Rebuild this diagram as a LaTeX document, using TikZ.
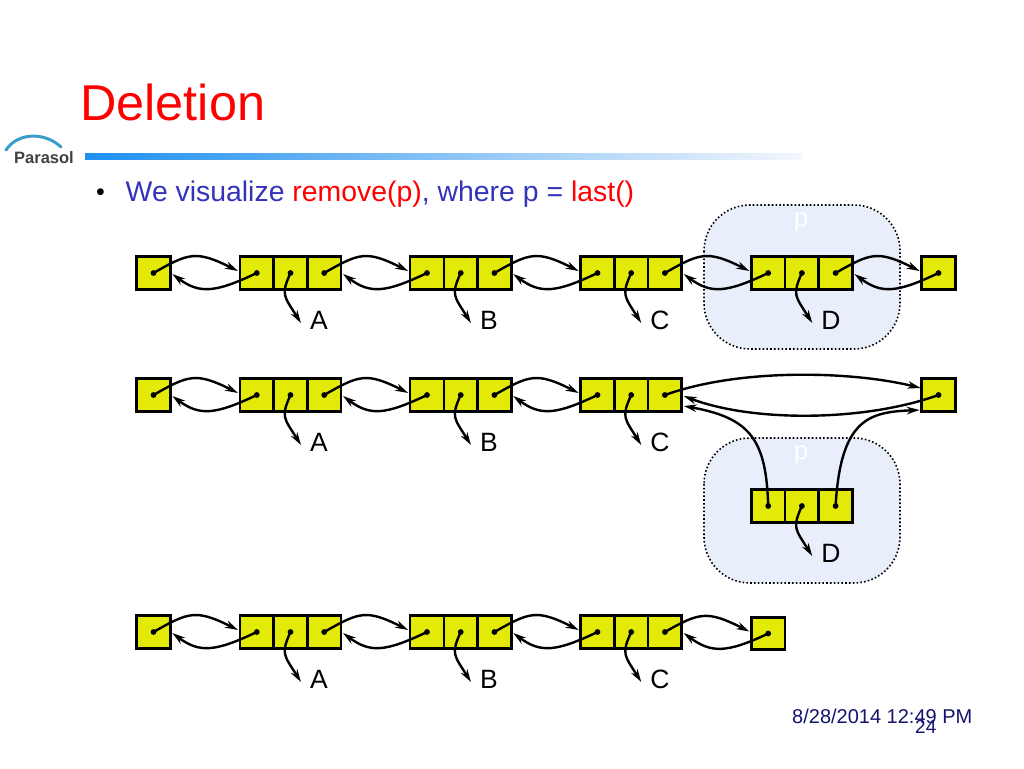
\documentclass[tikz,border=0pt]{standalone}
\usepackage{fontspec}
\setmainfont{Liberation Sans}
\usetikzlibrary{arrows.meta,calc}
\definecolor{cellfill}{HTML}{E4EA08}
\definecolor{blobfill}{HTML}{E8EEFA}
\definecolor{bluetxt}{HTML}{3333BB}
\definecolor{navytxt}{HTML}{14146E}
\definecolor{logoblue}{HTML}{3A9CC8}
\definecolor{barleft}{HTML}{1E90F0}
\definecolor{barmid}{HTML}{9CC3FC}
\definecolor{barright}{HTML}{F4F6FC}
\tikzset{
  cellbox/.style={draw=black,fill=cellfill,line width=2.6pt,minimum width=33.7pt,minimum height=32.5pt,inner sep=0pt,outer sep=0pt},
  link/.style={line width=2.4pt,-{Stealth[length=13pt,width=7.5pt]}},
  lbl/.style={font=\fontsize{26.5}{30}\selectfont,inner sep=0pt,text=black},
  blob/.style={draw=black,fill=blobfill,line width=1.6pt,dash pattern=on 1.6pt off 2.2pt,rounded corners=46pt},
  ptxt/.style={font=\fontsize{26}{30}\selectfont,text=white,inner sep=0pt}
}
\newcommand{\tripcell}[3]{%
  \node[cellbox] (#1a) at (#2,#3) {};
  \node[cellbox] (#1b) at (#2+33.7,#3) {};
  \node[cellbox] (#1c) at (#2+67.4,#3) {};
}
\newcommand{\pdot}[1]{\fill (#1.center) circle (2.9pt);}
\newcommand{\dotsthree}[1]{\pdot{#1a}\pdot{#1b}\pdot{#1c}}
\newcommand{\fwdlink}[2]{%
  \draw[link] (#1.center) .. controls ($(#1.center)+(35,-20)$) and ($(#2.west)+(-44,-23)$) .. ($(#2.west)+(-2,-2)$);
}
\newcommand{\backlink}[2]{%
  \draw[link] (#2.center) .. controls ($(#2.center)+(-42,20)$) and ($(#1.east)+(29,21)$) .. ($(#1.east)+(2,1)$);
}
\newcommand{\taillink}[2]{%
  \draw[link] (#1.center) .. controls ($(#1.center)+(-10,22)$) and ($(#2.west)+(-26,-24)$) .. ($(#2.west)+(-9,3)$);
}
\begin{document}
\begin{tikzpicture}[x=1pt,y=-1pt]
\useasboundingbox (0,0) rectangle (1024,768);
% header
\node[anchor=base west,inner sep=0pt,text=red,font=\fontsize{50.4}{56}\selectfont] (title) at (80,120) {Deletion};
\shade[left color=barleft,middle color=barmid,right color=barright] (85,153) rectangle (802,159);
\draw[logoblue,line width=3pt,line cap=round] (6,150) .. controls (18,132) and (45,132) .. (61,147);
\node[anchor=base west,inner sep=0pt,text=black!75,font=\fontsize{16.5}{20}\selectfont\bfseries] (logo) at (14,163) {Parasol};
\node[anchor=base west,inner sep=0pt,font=\fontsize{25}{30}\selectfont] (bul) at (96,200) {•};
\node[anchor=base west,inner sep=0pt,text=bluetxt,font=\fontsize{28.4}{32}\selectfont] (sub) at (125.5,201) {We visualize \textcolor{red}{remove(p)}, where p = \textcolor{red}{last()}};
% blobs
\draw[blob] (704,205) rectangle (900,349);
\draw[blob] (704,438) rectangle (900,583);
\node[ptxt] (p1) at (801,222) {p};
\node[ptxt] (p2) at (801,455) {p};
% row 1
\node[cellbox] (ah) at (153.5,273) {};
\tripcell{aa}{256.8}{273}
\tripcell{ab}{427}{273}
\tripcell{ac}{597.5}{273}
\tripcell{ad}{768.2}{273}
\node[cellbox] (at) at (938.5,273) {};
% row 2
\node[cellbox] (bh) at (153.5,395) {};
\tripcell{ba}{256.8}{395}
\tripcell{bb}{427}{395}
\tripcell{bc}{597.5}{395}
\node[cellbox] (bt) at (938.5,395) {};
\tripcell{bd}{768.2}{506}
% row 3
\node[cellbox] (ch) at (153.5,632) {};
\tripcell{ca}{256.8}{632}
\tripcell{cb}{427}{632}
\tripcell{cc}{597.5}{632}
\node[cellbox] (ct) at (768.2,633.5) {};
% labels
\foreach \n/\t/\x/\y in {la1/A/319/320,lb1/B/489/320,lc1/C/660/320,ld1/D/831/320,la2/A/319/442,lb2/B/489/442,lc2/C/660/442,ld2/D/831/553,la3/A/319/679,lb3/B/489/679,lc3/C/660/679}
  \node[lbl] (\n) at (\x,\y) {\t};
% dots
\pdot{ah}\dotsthree{aa}\dotsthree{ab}\dotsthree{ac}\dotsthree{ad}\pdot{at}
\pdot{bh}\dotsthree{ba}\dotsthree{bb}\dotsthree{bc}\dotsthree{bd}\pdot{bt}
\pdot{ch}\dotsthree{ca}\dotsthree{cb}\dotsthree{cc}\pdot{ct}
% links row 1
\fwdlink{ah}{aaa}\backlink{ah}{aaa}
\fwdlink{aac}{aba}\backlink{aac}{aba}
\fwdlink{abc}{aca}\backlink{abc}{aca}
\fwdlink{acc}{ada}\backlink{acc}{ada}
\fwdlink{adc}{at}\backlink{adc}{at}
% links row 2
\fwdlink{bh}{baa}\backlink{bh}{baa}
\fwdlink{bac}{bba}\backlink{bac}{bba}
\fwdlink{bbc}{bca}\backlink{bbc}{bca}
\draw[link] (bcc.center) .. controls ($(bcc.center)+(75,-27)$) and ($(bt.west)+(-70,-24)$) .. ($(bt.west)+(-1,-7)$);
\draw[link] (bt.center) .. controls ($(bt.center)+(-75,27)$) and ($(bcc.east)+(70,27)$) .. ($(bcc.east)+(2,1)$);
\draw[link] (bda.center) .. controls ($(bda.center)+(-2,-66)$) and ($(bcc.east)+(69,23)$) .. ($(bcc.east)+(2,11)$);
\draw[link] (bdc.center) .. controls ($(bdc.center)+(5,-88)$) and ($(bt.west)+(-52,17)$) .. ($(bt.west)+(-2,15)$);
% links row 3
\fwdlink{ch}{caa}\backlink{ch}{caa}
\fwdlink{cac}{cba}\backlink{cac}{cba}
\fwdlink{cbc}{cca}\backlink{cbc}{cca}
\fwdlink{ccc}{ct}\backlink{ccc}{ct}
% tails
\taillink{aab}{la1}\taillink{abb}{lb1}\taillink{acb}{lc1}\taillink{adb}{ld1}
\taillink{bab}{la2}\taillink{bbb}{lb2}\taillink{bcb}{lc2}\taillink{bdb}{ld2}
\taillink{cab}{la3}\taillink{cbb}{lb3}\taillink{ccb}{lc3}
% footer
\node[anchor=base west,inner sep=0pt,text=navytxt,font=\fontsize{20}{22}\selectfont] (dt) at (792,723) {8/28/2014 12:49 PM};
\node[anchor=base west,inner sep=0pt,text=navytxt,font=\fontsize{19}{22}\selectfont] (pg) at (915,733) {24};
\end{tikzpicture}
\end{document}
